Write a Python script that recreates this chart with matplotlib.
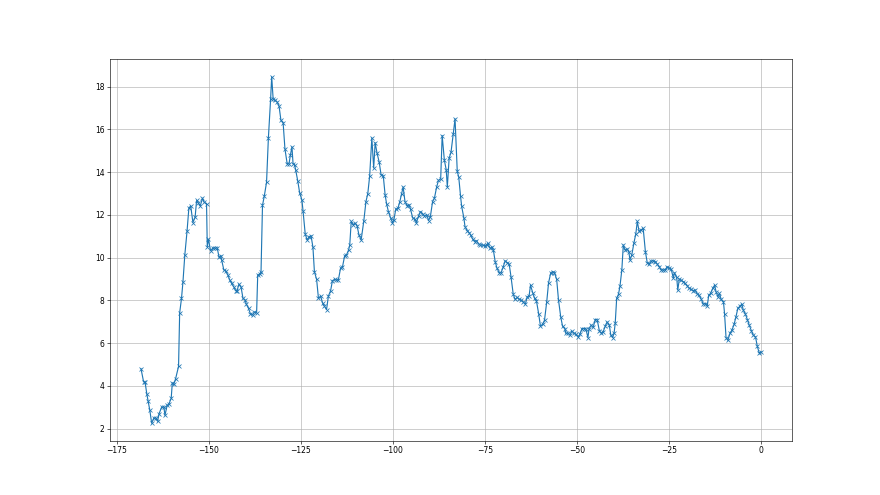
import matplotlib
matplotlib.use("Agg")
import matplotlib.pyplot as plt

x_vals = [
    -168.4, -167.7, -167.3, -166.8, -166.5, -166.0, -165.5, -164.9, -164.4, -163.9,
    -163.5, -162.8, -162.2, -161.9, -161.3, -160.8, -160.2, -159.9, -159.5, -159.0,
    -158.2, -157.9, -157.4, -157.0, -156.5, -155.9, -155.4, -154.9, -154.3, -153.7,
    -153.3, -152.8, -152.3, -151.7, -151.2, -150.6, -150.4, -150.1, -149.5, -148.8,
    -148.3, -147.7, -147.2, -146.7, -146.5, -145.9, -145.4, -144.8, -144.3, -143.8,
    -143.2, -142.7, -142.3, -141.8, -141.2, -140.7, -140.1, -139.8, -139.2, -138.7,
    -138.1, -137.6, -137.0, -136.7, -136.1, -135.8, -135.4, -134.9, -134.3, -133.8,
    -133.2, -132.9, -132.5, -132.0, -131.4, -130.9, -130.4, -129.8, -129.3, -128.7,
    -128.2, -127.8, -127.4, -127.1, -126.7, -126.4, -125.8, -125.3, -124.7, -124.4,
    -123.8, -123.3, -122.7, -122.2, -121.7, -121.3, -120.7, -120.2, -119.6, -119.1,
    -118.6, -118.0, -117.5, -116.9, -116.4, -115.8, -115.3, -114.8, -114.2, -113.7,
    -113.1, -112.6, -112.0, -111.7, -111.3, -110.8, -110.2, -109.7, -109.2, -108.6,
    -107.9, -107.3, -106.8, -106.3, -105.7, -105.2, -104.8, -104.3, -103.7, -103.2,
    -102.6, -102.1, -101.7, -101.2, -100.6, -100.1, -99.7, -99.2, -98.6, -98.1,
    -97.6, -97.2, -96.7, -96.1, -95.6, -95.2, -94.6, -94.1, -93.6, -93.0,
    -92.5, -91.9, -91.4, -90.8, -90.3, -89.8, -89.2, -88.7, -88.1, -87.6,
    -87.0, -86.6, -86.0, -85.5, -85.2, -84.7, -84.2, -83.6, -83.1, -82.5,
    -82.1, -81.6, -81.3, -80.7, -80.4, -79.8, -79.3, -78.9, -78.3, -77.8,
    -77.3, -76.7, -76.2, -75.6, -75.1, -74.5, -74.2, -73.6, -73.1, -72.7,
    -72.2, -71.7, -71.1, -70.6, -70.0, -69.5, -68.9, -68.4, -67.9, -67.3,
    -66.8, -66.2, -65.7, -65.1, -64.6, -64.0, -63.5, -63.0, -62.6, -62.0,
    -61.5, -61.0, -60.4, -59.9, -59.3, -58.8, -58.2, -57.7, -57.1, -56.6,
    -56.1, -55.5, -55.0, -54.4, -53.9, -53.3, -53.0, -52.4, -51.9, -51.4,
    -50.8, -50.3, -49.7, -49.2, -48.6, -48.1, -47.6, -47.0, -46.7, -46.1,
    -45.6, -45.0, -44.5, -43.9, -43.4, -42.9, -42.3, -41.8, -41.2, -40.8,
    -40.3, -39.9, -39.6, -39.2, -38.7, -38.3, -37.8, -37.4, -36.9, -36.3,
    -35.9, -35.6, -35.1, -34.5, -34.0, -33.6, -33.1, -32.5, -32.0, -31.4,
    -30.9, -30.4, -29.8, -29.3, -28.7, -28.2, -27.6, -27.1, -26.5, -26.0,
    -25.5, -24.9, -24.4, -23.8, -23.5, -22.9, -22.6, -22.2, -21.7, -21.1,
    -20.6, -20.0, -19.5, -18.9, -18.4, -17.9, -17.3, -16.8, -16.2, -15.7,
    -15.1, -14.6, -14.2, -13.7, -13.1, -12.6, -12.2, -11.7, -11.3, -10.8,
    -10.2, -9.9, -9.5, -9.0, -8.4, -7.9, -7.3, -6.8, -6.3, -5.7,
    -5.2, -4.8, -4.3, -3.7, -3.2, -2.6, -2.1, -1.5, -1.0, -0.5,
    0.0,
]

y_vals = [
    4.80, 4.19, 4.17, 3.60, 3.31, 2.85, 2.25, 2.50, 2.50, 2.34,
    2.69, 3.00, 3.03, 2.62, 3.08, 3.16, 3.41, 4.13, 4.07, 4.33,
    4.91, 7.41, 8.09, 8.87, 10.12, 11.22, 12.31, 12.42, 11.64, 11.89,
    12.67, 12.55, 12.42, 12.78, 12.58, 12.52, 10.51, 10.86, 10.32, 10.46,
    10.44, 10.46, 10.01, 10.08, 9.89, 9.42, 9.38, 9.18, 8.95, 8.79,
    8.63, 8.45, 8.45, 8.76, 8.60, 8.09, 8.01, 7.82, 7.62, 7.38,
    7.31, 7.46, 7.41, 9.18, 9.23, 9.34, 12.44, 12.89, 13.52, 15.60,
    17.40, 18.46, 17.40, 17.37, 17.27, 17.08, 16.43, 16.31, 15.08, 14.39,
    14.39, 14.82, 15.18, 14.39, 14.35, 14.11, 13.56, 13.02, 12.70, 12.20,
    11.11, 10.83, 10.98, 11.01, 10.48, 9.34, 8.98, 8.09, 8.20, 7.88,
    7.73, 7.57, 8.20, 8.45, 8.92, 8.98, 8.95, 8.95, 9.50, 9.54,
    10.07, 10.12, 10.36, 10.59, 11.69, 11.53, 11.61, 11.48, 11.06, 10.83,
    11.69, 12.62, 12.99, 13.80, 15.60, 14.19, 15.37, 14.90, 14.46, 13.88,
    13.83, 12.94, 12.52, 12.15, 11.85, 11.64, 11.77, 12.27, 12.31, 12.62,
    12.99, 13.30, 12.62, 12.42, 12.47, 12.27, 11.85, 11.80, 11.64, 11.95,
    12.15, 12.05, 11.95, 12.00, 11.73, 11.92, 12.62, 12.78, 13.30, 13.61,
    13.68, 15.71, 14.55, 14.11, 13.30, 14.66, 14.92, 15.76, 16.49, 14.03,
    13.77, 12.86, 12.39, 11.85, 11.45, 11.26, 11.17, 11.06, 10.86, 10.75,
    10.79, 10.64, 10.58, 10.58, 10.55, 10.59, 10.67, 10.44, 10.48, 10.36,
    9.81, 9.50, 9.29, 9.29, 9.57, 9.85, 9.76, 9.70, 9.10, 8.29,
    8.04, 8.14, 8.04, 8.01, 7.93, 7.82, 8.16, 8.20, 8.71, 8.35,
    8.09, 7.98, 7.38, 6.79, 6.88, 7.07, 7.93, 8.82, 9.29, 9.34,
    9.29, 8.98, 8.01, 7.23, 6.79, 6.68, 6.45, 6.47, 6.37, 6.57,
    6.45, 6.41, 6.29, 6.41, 6.68, 6.68, 6.68, 6.26, 6.68, 6.84,
    6.73, 7.10, 7.10, 6.57, 6.47, 6.52, 6.79, 6.99, 6.84, 6.37,
    6.26, 6.47, 6.92, 8.09, 8.29, 8.67, 9.42, 10.59, 10.36, 10.39,
    10.28, 9.89, 10.12, 10.70, 11.11, 11.69, 11.22, 11.30, 11.37, 10.28,
    9.76, 9.70, 9.84, 9.85, 9.81, 9.70, 9.57, 9.42, 9.42, 9.42,
    9.57, 9.50, 9.46, 9.03, 9.29, 9.07, 8.48, 8.98, 8.95, 8.87,
    8.79, 8.67, 8.56, 8.51, 8.45, 8.48, 8.29, 8.24, 8.04, 7.82,
    7.85, 7.73, 8.24, 8.32, 8.56, 8.71, 8.40, 8.16, 8.32, 8.04,
    7.93, 7.38, 6.26, 6.13, 6.47, 6.60, 6.88, 7.23, 7.62, 7.73,
    7.82, 7.54, 7.38, 7.10, 6.84, 6.57, 6.37, 6.29, 5.85, 5.54,
    5.58,
]

fig, ax = plt.subplots(figsize=(16, 9), dpi=55)
ax.plot(x_vals, y_vals, marker="x")
ax.grid(True)
fig.savefig("out.png", dpi=55)
